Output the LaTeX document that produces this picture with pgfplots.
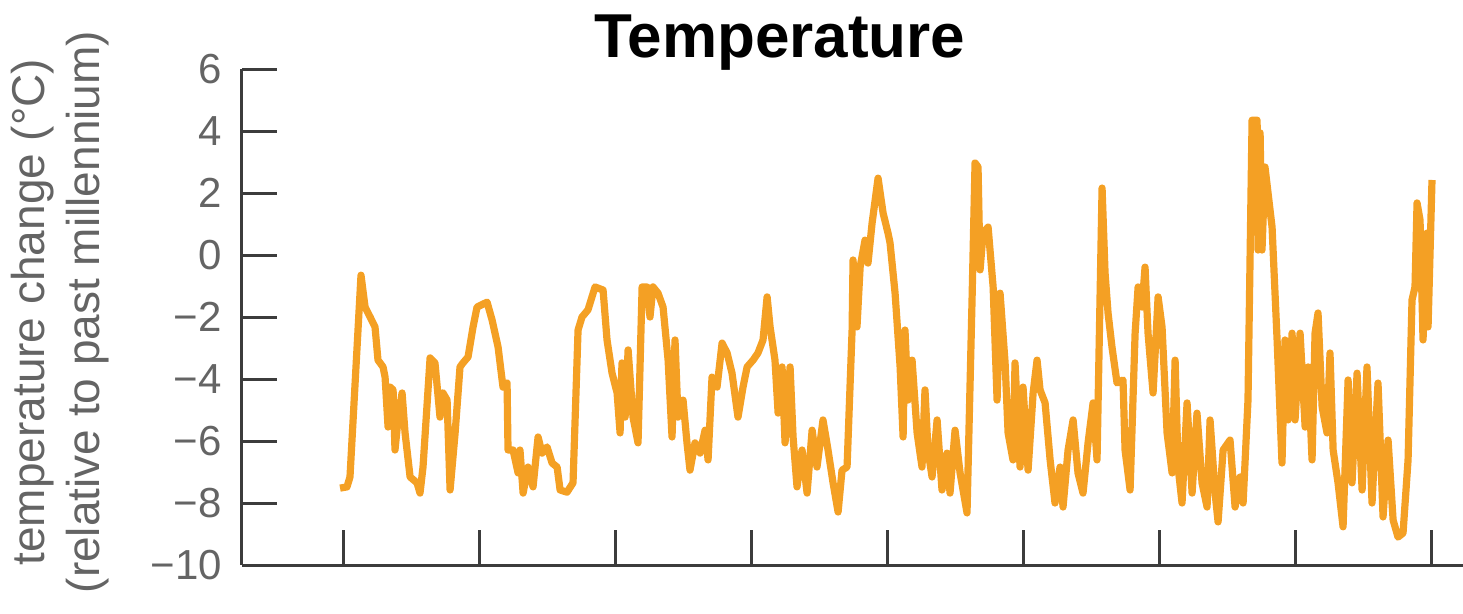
\documentclass[border=0pt]{standalone}
\usepackage{fontspec}
\setmainfont{Liberation Sans}
\usepackage{pgfplots}
\pgfplotsset{compat=1.18}
\definecolor{templine}{RGB}{244,160,36}
\definecolor{axgray}{RGB}{60,60,60}
\definecolor{labgray}{RGB}{100,100,100}
\begin{document}
\begin{tikzpicture}
\begin{axis}[
  at={(0,0)}, anchor=south west,
  scale only axis,
  width=305.25pt, height=124pt,
  axis lines=left,
  axis line style={-, line width=0.75pt, axgray},
  xmin=-74.3, xmax=823.5,
  ymin=-10, ymax=6,
  xtick={0,100,...,800}, xticklabels={},
  ytick={-10,-8,...,6},
  yticklabels={−10,−8,−6,−4,−2,0,2,4,6},
  tick align=inside,
  major tick length=8.75pt,
  tick style={line width=0.75pt, axgray},
  yticklabel style={font=\fontsize{10.5}{12}\selectfont, text=labgray, xshift=-1.5pt},
  title={Temperature},
  every axis title shift=0pt,
  title style={at={(axis description cs:0.4406,1.024)}, anchor=base,
    font=\bfseries\fontsize{15.5}{18}\selectfont},
  ylabel={temperature change (°C)\\(relative to past millennium)},
  every axis y label/.style={at={(axis description cs:-0.1487,0.51)}, rotate=90,
    anchor=center, align=center, text=labgray,
    font=\fontsize{11.5}{13.75}\selectfont},
]
\addplot[templine, line width=1.8pt, line join=round] coordinates {
(-2.2,-7.52) (2.9,-7.48) (5.1,-7.16) (13.2,-0.65) (16.2,-1.68) (19.9,-2.00)
(23.5,-2.32) (25.7,-3.39) (29.4,-3.61) (30.9,-3.94) (33.1,-5.55) (34.6,-4.26)
(36.8,-4.35) (38.2,-6.29) (40.4,-5.32) (43.4,-4.45) (45.6,-5.74) (49.3,-7.16)
(54.4,-7.35) (56.6,-7.68) (58.8,-6.84) (64.0,-3.32) (67.6,-3.48) (71.3,-5.23)
(73.5,-4.45) (76.5,-4.68) (78.7,-7.58) (82.4,-5.74) (86.0,-3.61) (88.2,-3.48)
(91.9,-3.29) (95.6,-2.32) (98.5,-1.68) (105.9,-1.52) (109.6,-2.10) (114.0,-2.97)
(117.6,-4.26) (120.6,-4.13) (121.3,-6.29) (125.0,-6.29) (128.7,-7.03) (130.1,-6.29)
(132.4,-7.68) (136.0,-6.84) (139.7,-7.48) (143.4,-5.87) (146.3,-6.39) (150.0,-6.19)
(153.7,-6.71) (157.4,-6.84) (159.6,-7.58) (164.7,-7.65) (169.1,-7.35) (172.8,-2.42)
(175.7,-2.00) (180.1,-1.77) (185.3,-1.03) (191.2,-1.13) (194.1,-2.74) (197.8,-3.81)
(201.5,-4.45) (203.7,-5.74) (205.1,-3.48) (207.4,-5.23) (209.6,-3.06) (213.2,-5.23)
(216.9,-6.06) (219.9,-1.03) (223.5,-1.03) (225.7,-2.00) (227.9,-1.03) (231.6,-1.23)
(235.3,-1.68) (239.0,-3.39) (241.9,-5.87) (244.1,-2.74) (246.3,-5.23) (250.0,-4.68)
(252.9,-6.06) (255.1,-6.94) (258.8,-6.06) (262.5,-6.39) (266.2,-5.65) (268.4,-6.61)
(271.3,-3.94) (275.0,-4.26) (278.7,-2.84) (282.4,-3.16) (286.0,-3.81) (290.4,-5.23)
(294.1,-4.26) (297.1,-3.61) (301.5,-3.39) (305.1,-3.16) (308.8,-2.74) (311.8,-1.35)
(314.0,-2.32) (317.6,-3.39) (319.9,-5.10) (322.8,-3.61) (325.0,-6.06) (328.7,-3.61)
(330.9,-5.87) (333.8,-7.48) (337.5,-6.29) (341.2,-7.68) (344.9,-5.65) (348.5,-6.84)
(352.9,-5.32) (356.6,-6.29) (360.3,-7.35) (364.0,-8.29) (366.9,-6.94) (370.6,-6.84)
(374.3,-2.42) (375.0,-0.16) (377.9,-2.32) (380.2,-0.39) (383.8,0.48) (386.0,-0.26)
(389.0,1.03) (393.4,2.48) (397.1,1.35) (400.7,0.71) (402.2,0.39) (405.9,-1.23)
(409.6,-3.61) (411.8,-5.87) (413.2,-2.42) (415.4,-4.68) (418.4,-3.39) (422.1,-5.74)
(425.7,-6.84) (427.9,-4.35) (430.1,-6.29) (433.1,-7.16) (436.8,-5.32) (440.4,-7.58)
(444.1,-6.39) (446.3,-7.68) (450.0,-5.65) (453.7,-7.03) (458.8,-8.32) (462.5,-1.45)
(464.7,2.97) (466.9,2.84) (468.4,-0.48) (470.6,0.71) (474.3,0.90) (478.0,-1.03)
(480.9,-4.68) (483.1,-1.23) (486.8,-3.48) (489.0,-5.74) (492.6,-6.61) (494.1,-3.48)
(497.8,-6.84) (500.0,-4.26) (503.7,-6.94) (507.4,-4.45) (510.3,-3.39) (512.5,-4.35)
(516.2,-4.77) (519.9,-6.61) (523.5,-8.00) (527.2,-6.84) (529.4,-8.13) (533.1,-6.29)
(536.8,-5.32) (540.4,-7.03) (544.1,-7.68) (547.8,-6.06) (551.5,-4.77) (554.4,-6.61)
(558.1,2.16) (560.3,-0.58) (562.5,-1.87) (565.4,-2.97) (569.1,-4.13) (573.5,-4.03)
(575.0,-6.29) (578.7,-7.58) (582.4,-2.52) (584.6,-1.03) (587.5,-1.68) (589.7,-0.39)
(591.9,-2.52) (595.6,-4.45) (599.3,-1.35) (602.2,-2.32) (605.9,-5.74) (609.6,-7.03)
(611.8,-3.39) (614.0,-6.84) (616.9,-8.00) (620.6,-4.77) (624.3,-7.68) (627.9,-5.10)
(631.6,-7.35) (635.3,-8.13) (637.5,-5.32) (641.2,-7.68) (643.4,-8.61) (647.1,-6.29)
(652.2,-5.97) (655.9,-8.13) (659.6,-7.16) (661.8,-8.00) (665.4,-4.68) (668.4,4.35)
(672.1,4.35) (672.8,0.16) (674.3,3.94) (675.7,0.16) (677.9,2.84) (683.1,0.90)
(686.8,-2.74) (690.4,-6.71) (692.6,-2.74) (694.9,-5.32) (697.8,-2.52) (700.0,-5.32)
(703.7,-2.52) (707.4,-5.55) (709.6,-3.61) (712.5,-6.61) (714.7,-2.52) (716.9,-1.87)
(719.9,-4.90) (723.5,-5.74) (725.7,-3.16) (728.0,-6.29) (731.6,-7.35) (735.3,-8.77)
(739.0,-4.03) (741.9,-7.35) (745.6,-3.81) (749.3,-7.58) (752.9,-3.61) (756.6,-8.00)
(761.0,-4.13) (764.7,-8.45) (768.4,-5.97) (772.1,-8.55) (775.7,-9.10) (779.4,-8.97)
(783.1,-6.61) (786.0,-1.45) (788.2,-1.03) (789.7,1.68) (791.9,1.13) (794.1,-2.74)
(797.1,0.71) (797.8,-2.32) (800.7,2.42)
};
\end{axis}
\pgfresetboundingbox
\path[use as bounding box] (-60.5pt,-12pt) rectangle (305.25pt,141.25pt);
\end{tikzpicture}
\end{document}
